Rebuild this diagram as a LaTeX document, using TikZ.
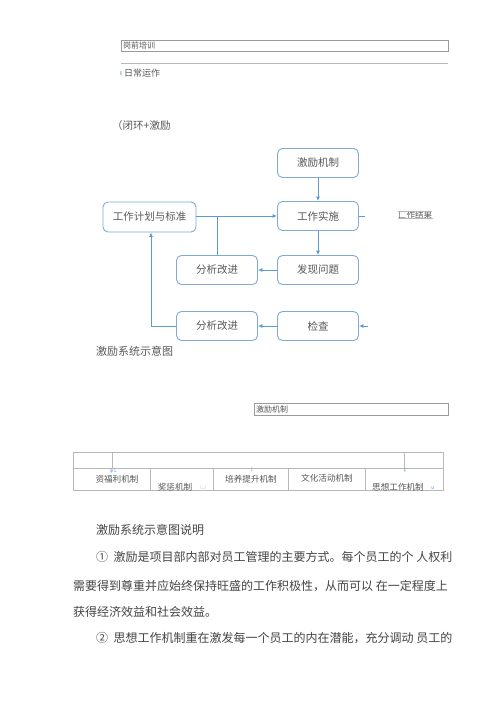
\documentclass[tikz,border=0pt]{standalone}
\usepackage{fontspec}
\setmainfont{Noto Sans CJK SC}
\usetikzlibrary{arrows.meta}
\definecolor{fbord}{HTML}{7FA9D6}
\definecolor{farrow}{HTML}{5B9BD5}
\definecolor{ftext}{HTML}{585858}
\definecolor{ptext}{HTML}{444444}
\definecolor{gline}{HTML}{9A9A9A}
\definecolor{tline}{HTML}{B8B8B8}
\tikzset{
  flowbox/.style={draw=fbord, line width=0.9pt, rounded corners=5pt, minimum width=81pt, minimum height=29pt, inner sep=0pt, text=ftext, font=\fontsize{10.5}{12}\selectfont},
  conn/.style={draw=farrow, line width=0.9pt},
  arr/.style={conn, -{Latex[length=4.5pt,width=4pt]}},
  smalllbl/.style={inner sep=0pt, anchor=west, text=ftext, font=\fontsize{8}{9}\selectfont},
  tbllbl/.style={inner sep=0pt, text=ftext, font=\fontsize{8.6}{10}\selectfont},
  paraline/.style={inner sep=0pt, anchor=west, text=ptext, font=\fontsize{12}{14}\selectfont},
  bluemark/.style={inner sep=0pt, text=farrow, font=\fontsize{5}{6}\selectfont},
}
\begin{document}
\begin{tikzpicture}[x=1pt,y=-1pt]
\useasboundingbox[fill=white] (0,0) rectangle (500,707);

% top boxes
\draw[gline, line width=0.6pt] (121,40) rectangle (448,51);
\node[smalllbl] (gq) at (123,45.5) {岗前培训};
\draw[tline, line width=0.6pt] (121,63) -- (448,63);
\draw[fbord!50, line width=1.2pt] (121,71) -- (121,75);
\node[smalllbl, font=\fontsize{9}{10}\selectfont] (rc) at (124,73) {日常运作};

\node[inner sep=0pt, anchor=west, text=ftext, font=\fontsize{10.5}{12}\selectfont] (bh) at (112,126) {（闭环+激励};

% flowchart
\node[flowbox] (jl) at (318,163) {激励机制};
\node[flowbox] (ss) at (318,216) {工作实施};
\node[flowbox, minimum width=93pt, minimum height=30pt] (jh) at (149.5,217) {工作计划与标准};
\node[flowbox] (fx) at (318,270) {发现问题};
\node[flowbox] (gj1) at (217,270) {分析改进};
\node[flowbox] (jc) at (318,326) {检查};
\node[flowbox] (gj2) at (217,326) {分析改进};

\draw[arr] (jl) -- (ss);
\draw[arr] (jh.east |- ss.west) -- (ss.west);
\draw[conn] (gj1.north) -- (gj1.north |- ss.west);
\draw[arr] (ss) -- (fx);
\draw[arr] (fx) -- (gj1);
\draw[arr] (jc) -- (gj2);
\coordinate (lc) at (151,326);
\draw[arr] (gj2.west) -- (lc) -- (lc |- jh.south);
\coordinate (ssout) at (365,216);
\draw[conn] (ss.east) -- (ssout);
\coordinate (jcin) at (368,326);
\draw[arr] (jcin) -- (jc.east);

\node[inner sep=0pt, anchor=west, text=ftext, font=\fontsize{8.5}{10}\selectfont] (jg) at (398,215) {匚作结果};
\draw[tline, line width=0.6pt] (jg.north west) -- (jg.north east);
\draw[tline, line width=0.6pt] (jg.south west) ++(0,-1) -- ++(35,0);

\node[inner sep=0pt, anchor=west, text=ftext, font=\fontsize{11}{13}\selectfont] (cap) at (96,351) {激励系统示意图};

% second box
\draw[gline, line width=0.6pt] (254,403) rectangle (448,415);
\node[smalllbl] (jl2) at (256,409) {激励机制};

% table
\draw[tline, line width=0.6pt] (73,452) rectangle (443,490);
\draw[tline, line width=0.6pt] (73,468) -- (443,468);
\draw[tline, line width=0.6pt] (112,452) -- (112,468);
\draw[tline, line width=0.6pt] (404,452) -- (404,468);
\foreach \x in {150,213,288,365} \draw[tline, line width=0.6pt] (\x,468) -- (\x,490);

\node[tbllbl] (t1) at (117,479) {资福利机制};
\node[tbllbl] (t2) at (175,487.5) {奖惩机制};
\node[tbllbl] (t3) at (251,479) {培养提升机制};
\node[tbllbl] (t4) at (327,478) {文化活动机制};
\node[tbllbl] (t5) at (398,487.5) {思想工作机制};

\node[bluemark] (m1) at (113,471) {ψ1};
\node[bluemark] (m2) at (405,471) {F};
\node[bluemark] (m3) at (252,469.5) {j};
\node[bluemark] (m4) at (203,488) {└┘};
\node[bluemark] (m5) at (433,488) {u};

% paragraph
\node[paraline] (p0) at (96,530) {激励系统示意图说明};
\node[paraline] (p1) at (96,557) {①\ \ 激励是项目部内部对员工管理的主要方式。每个员工的个\ 人权利};
\node[paraline] (p2) at (73,586) {需要得到尊重并应始终保持旺盛的工作积极性，从而可以\ 在一定程度上};
\node[paraline] (p3) at (73,612) {获得经济效益和社会效益。};
\node[paraline] (p4) at (96,638) {②\ \ 思想工作机制重在激发每一个员工的内在潜能，充分调动\ 员工的};
\end{tikzpicture}
\end{document}
